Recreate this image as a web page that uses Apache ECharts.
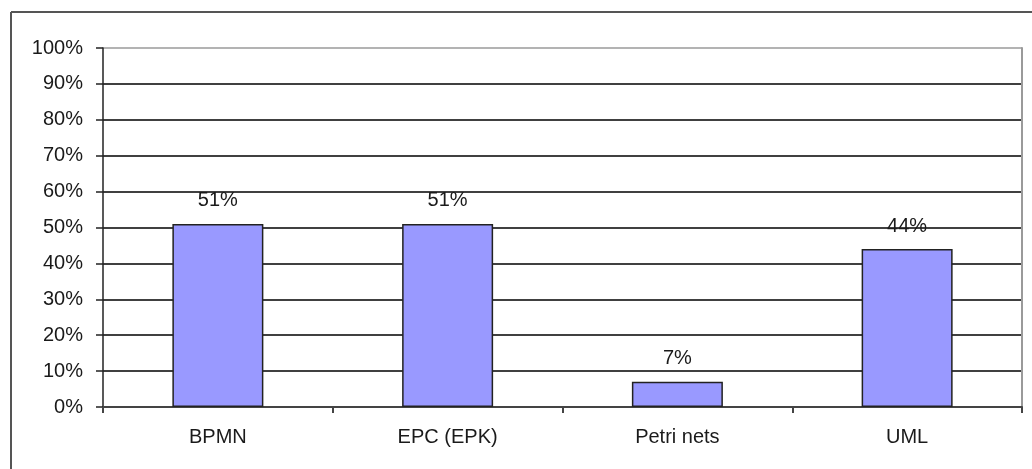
<!DOCTYPE html>
<html>

<head>
  <meta charset="utf-8">
  <title>Modelling languages</title>
  <script src="https://cdn.jsdelivr.net/npm/echarts@6/dist/echarts.min.js"></script>
  <style>
    html, body {
      margin: 0;
      padding: 0;
      background: #fff;
    }

    #main {
      width: 1032px;
      height: 469px;
    }
  </style>
</head>

<body>
  <div id="main"></div>
  <script>
    // data
    var categories = ['BPMN', 'EPC (EPK)', 'Petri nets', 'UML'];
    var shares = [51, 51, 7, 44];
    var yTicks = [0, 10, 20, 30, 40, 50, 60, 70, 80, 90, 100];

    var chart = echarts.init(document.getElementById('main'));

    // gridlines: black, except the top one which is the grey plot border
    var gridColors = yTicks.map(function (v) {
      return v === 100 ? '#9a9a9a' : '#000';
    });

    var font = 'Liberation Sans, Arial, sans-serif';

    var option = {
      animation: false,
      grid: {
        left: 103,
        right: 10,
        top: 48,
        bottom: 62
      },
      xAxis: {
        type: 'category',
        data: categories,
        axisLine: { lineStyle: { color: '#444', width: 2 } },
        axisTick: { show: true, length: 6, lineStyle: { color: '#444', width: 2 } },
        axisLabel: { color: '#1a1a1a', fontSize: 20, fontFamily: font, margin: 20 }
      },
      yAxis: [{
        type: 'value',
        min: 0,
        max: 100,
        interval: 10,
        axisLine: { show: true, lineStyle: { color: '#222', width: 1.5 } },
        axisTick: { show: true, length: 7, lineStyle: { color: '#222', width: 1.5 } },
        axisLabel: {
          color: '#1a1a1a', fontSize: 20, fontFamily: font, margin: 20,
          formatter: '{value}%'
        },
        splitLine: { lineStyle: { color: gridColors, width: 1.5 } }
      }, {
        type: 'value',
        position: 'right',
        min: 0,
        max: 100,
        interval: 10,
        axisLine: { show: true, lineStyle: { color: '#9a9a9a', width: 2 } },
        axisTick: { show: false },
        axisLabel: { show: false },
        splitLine: { show: false }
      }],
      series: [{
        type: 'bar',
        data: shares,
        barWidth: 91,
        itemStyle: {
          color: '#9999ff',
          borderColor: '#222',
          borderWidth: 1.5
        },
        label: {
          show: true,
          position: 'top',
          distance: 13,
          formatter: '{c}%',
          color: '#1a1a1a',
          fontSize: 20,
          fontFamily: font
        }
      }],
      graphic: [{
        type: 'line',
        shape: { x1: 11, y1: 12, x2: 1032, y2: 12 },
        style: { stroke: '#555', lineWidth: 2 }
      }, {
        type: 'line',
        shape: { x1: 11, y1: 12, x2: 11, y2: 469 },
        style: { stroke: '#555', lineWidth: 2 }
      }]
    };

    chart.setOption(option);
  </script>
</body>

</html>
